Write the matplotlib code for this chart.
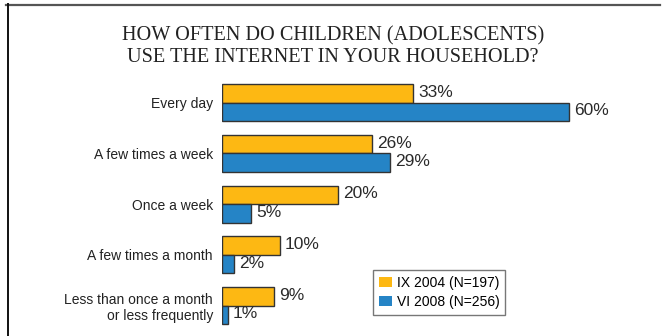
import matplotlib.pyplot as plt
from matplotlib.lines import Line2D
import numpy as np

categories = ["Every day", "A few times a week", "Once a week",
              "A few times a month", "Less than once a month\nor less frequently"]
values_2004 = [33, 26, 20, 10, 9]
values_2008 = [60, 29, 5, 2, 1]
series_names = ["IX 2004 (N=197)", "VI 2008 (N=256)"]

orange = "#FDB813"
blue = "#2584C6"
edge = "#333333"

W, H = 663, 336
fig = plt.figure(figsize=(W / 100, H / 100), dpi=100)
plt.rcParams['font.family'] = ['Liberation Sans', 'DejaVu Sans']

# axes placed in pixels: bars start at x=222, 5.78 px per percent
ax_left, ax_right = 222, 640
ax_top, ax_bot = 74, 334
ax = fig.add_axes([ax_left / W, 1 - ax_bot / H, (ax_right - ax_left) / W, (ax_bot - ax_top) / H])
ax.set_xlim(0, (ax_right - ax_left) / 5.78)
pitch = 50.75
y0 = (102.7 - ax_top) / pitch
ax.set_ylim(-y0 + (ax_bot - ax_top) / pitch, -y0)

y = np.arange(len(categories))
h = 18.5 / pitch
bars1 = ax.barh(y - h / 2, values_2004, height=h, color=orange, edgecolor=edge, linewidth=1.0,
                label=series_names[0])
bars2 = ax.barh(y + h / 2, values_2008, height=h, color=blue, edgecolor=edge, linewidth=1.0,
                label=series_names[1])

for bars, vals in ((bars1, values_2004), (bars2, values_2008)):
    for b, v in zip(bars, vals):
        ax.text(v + 0.9, b.get_y() + b.get_height() / 2 - 0.02, f"{v}%",
                va="center", ha="left", fontsize=12.5, color="#2a2a2a")

ax.set_yticks(y)
ax.set_yticklabels(categories, fontsize=10, color="#222222")
ax.tick_params(axis="y", length=0, pad=6.5)
ax.set_xticks([])
for s in ax.spines.values():
    s.set_visible(False)

fig.text(0.502, 1 - 36 / H, "HOW OFTEN DO CHILDREN (ADOLESCENTS)", ha="center", va="center",
         fontsize=14.6, family="Liberation Serif", color="#222222")
fig.text(0.502, 1 - 58 / H, "USE THE INTERNET IN YOUR HOUSEHOLD?", ha="center", va="center",
         fontsize=14.6, family="Liberation Serif", color="#222222")

leg = fig.legend(handles=[bars1, bars2], labels=series_names, loc="upper left",
                 bbox_to_anchor=(373 / W, 1 - 270 / H), fontsize=10, frameon=True,
                 fancybox=False, edgecolor="#555555", handlelength=1.0, handleheight=0.7,
                 handletextpad=0.3, borderpad=0.4, labelspacing=0.4, borderaxespad=0)
leg.get_frame().set_linewidth(1.0)
for p in leg.get_patches():
    p.set_edgecolor("none")

# frame lines along the top and left edges
fig.add_artist(Line2D([6 / W, 660 / W], [1 - 4.5 / H, 1 - 4.5 / H], color="#555555", linewidth=1.6))
fig.add_artist(Line2D([7.5 / W, 7.5 / W], [1 - 4 / H, 0], color="#111111", linewidth=1.4))

fig.savefig("out.png", dpi=100)
